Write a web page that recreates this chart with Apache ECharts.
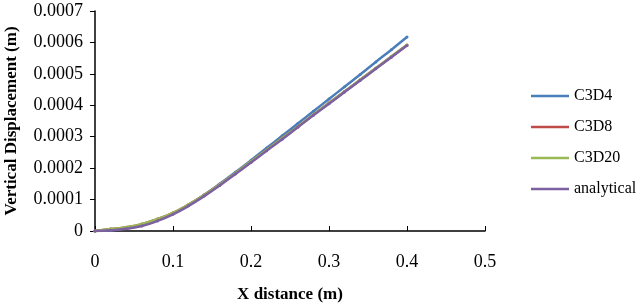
<!DOCTYPE html>
<html>
<head>
<meta charset="utf-8">
<script src="https://cdn.jsdelivr.net/npm/echarts@6/dist/echarts.min.js"></script>
<style>
  html, body { margin: 0; padding: 0; background: #fff; }
  #chart { width: 639px; height: 308px; }
</style>
</head>
<body>
<div id="chart"></div>
<script>
const xValues = [0, 0.02, 0.04, 0.06, 0.08, 0.10, 0.12, 0.14, 0.16, 0.18, 0.20,
  0.22, 0.24, 0.26, 0.28, 0.30, 0.32, 0.34, 0.36, 0.38, 0.40]
const c3d4 = [0, 0.000002, 0.000008, 0.000018, 0.000034, 0.000056, 0.000083, 0.000115, 0.000150, 0.000187, 0.000225,
  0.000264, 0.000303, 0.000342, 0.000381, 0.000420, 0.000459, 0.000498, 0.000538, 0.000577, 0.000617]
const c3d8 = [0, 0.000006, 0.000012, 0.000022, 0.000038, 0.000058, 0.000084, 0.000114, 0.000148, 0.000184, 0.000221,
  0.000258, 0.000295, 0.000332, 0.000370, 0.000407, 0.000444, 0.000481, 0.000518, 0.000555, 0.000592]
const c3d20 = [0, 0.000006, 0.000012, 0.000022, 0.000038, 0.000058, 0.000084, 0.000114, 0.000148, 0.000184, 0.000221,
  0.000258, 0.000295, 0.000332, 0.000370, 0.000407, 0.000444, 0.000481, 0.000518, 0.000555, 0.000592]
const analytical = [0, 0.000002, 0.000007, 0.000016, 0.000032, 0.000053, 0.000080, 0.000111, 0.000145, 0.000181, 0.000218,
  0.000255, 0.000292, 0.000330, 0.000368, 0.000405, 0.000442, 0.000479, 0.000516, 0.000553, 0.000590]
const seriesNames = ['C3D4', 'C3D8', 'C3D20', 'analytical']
const seriesColors = ['#4a7ebb', '#be4b48', '#98b954', '#7d60a0']

const font = 'Liberation Serif'
const pairs = ys => xValues.map((x, i) => [x, ys[i]])

const chart = echarts.init(document.getElementById('chart'))
chart.setOption({
  animation: false,
  grid: { left: 95, right: 154, top: 11, bottom: 77, outerBoundsMode: 'none', containLabel: false },
  legend: {
    orient: 'vertical',
    left: 526, top: 83,
    icon: 'path://M0,6 L38,6 L38,8.5 L0,8.5 Z',
    itemWidth: 38, itemHeight: 14, itemGap: 15,
    textStyle: { fontFamily: font, fontSize: 16, color: '#000' },
    data: seriesNames
  },
  xAxis: {
    type: 'value', min: 0, max: 0.5, interval: 0.1,
    name: 'X distance (m)', nameLocation: 'middle', nameGap: 55,
    nameTextStyle: { fontFamily: font, fontSize: 17, fontWeight: 'bold', color: '#000' },
    axisLine: { lineStyle: { color: '#000', width: 1.5 } },
    axisTick: { inside: true, length: 5, lineStyle: { color: '#000' } },
    axisLabel: { fontFamily: font, fontSize: 18, color: '#000', margin: 22,
      formatter: v => v === 0 ? '0' : v.toFixed(1) },
    splitLine: { show: false }
  },
  yAxis: {
    type: 'value', min: 0, max: 0.0007, interval: 0.0001,
    name: 'Vertical Displacement (m)', nameLocation: 'middle', nameGap: 75,
    nameTextStyle: { fontFamily: font, fontSize: 17, fontWeight: 'bold', color: '#000' },
    axisLine: { show: true, lineStyle: { color: '#000', width: 1.5 } },
    axisTick: { show: true, length: 5, lineStyle: { color: '#000' } },
    axisLabel: { fontFamily: font, fontSize: 18, color: '#000', margin: 12,
      formatter: v => v === 0 ? '0' : v.toFixed(4) },
    splitLine: { show: false }
  },
  series: [c3d4, c3d8, c3d20, analytical].map((ys, i) => ({
    name: seriesNames[i],
    type: 'line',
    data: pairs(ys),
    smooth: true,
    symbol: 'circle',
    symbolSize: 3,
    showSymbol: true,
    color: seriesColors[i],
    lineStyle: { width: 2.5, color: seriesColors[i] },
    z: i === 0 ? 2 : 3 + i
  }))
})
</script>
</body>
</html>
